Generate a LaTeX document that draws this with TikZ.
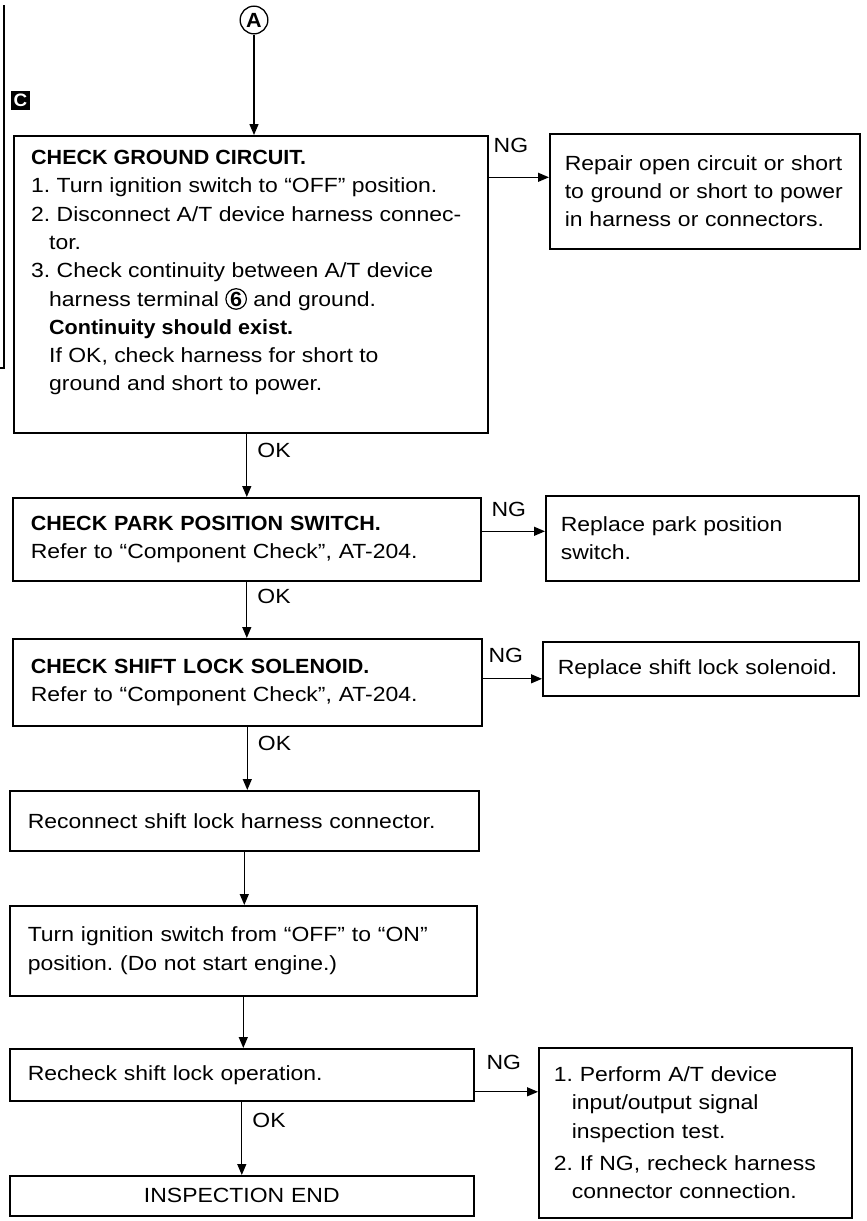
\documentclass[tikz,border=0pt]{standalone}
\usepackage{fontspec}
\setmainfont{Liberation Sans}[FakeStretch=1.12, BoldFeatures={FakeStretch=1.05}]
\usepackage{tikz}
\usetikzlibrary{arrows.meta,positioning,calc}
\newcommand\mainsz{\fontsize{20.5}{28.3}\selectfont}
\newcommand\circnum[1]{\tikz[baseline=(cn.base)]\node[circle, draw, line width=1.2pt, inner sep=0.6pt, font=\bfseries] (cn) {#1};}
\frenchspacing
\tikzset{
  stepbox/.style={draw, line width=1.6pt, align=left, anchor=north west, inner xsep=18pt, inner ysep=0pt, font=\mainsz},
  ngbox/.style={stepbox, inner xsep=15pt},
  arr/.style={-{Triangle[length=11pt, width=9pt]}, line width=1.3pt},
  lab/.style={font=\mainsz, inner sep=2pt},
  oklab/.style={lab, right=8pt, pos=0.26}
}
\begin{document}
\begin{tikzpicture}[x=1pt, y=-1pt]
\useasboundingbox (0,0) rectangle (867,1221);
% margin bracket and badge
\draw[line width=1.2pt] (4,5) -- (4,368) -- (0,368);
\node[fill=black, text=white, font=\fontsize{18}{18}\selectfont\bfseries, minimum size=19pt, inner sep=0pt] (badgeC) at (20.5,100.5) {C};
\node[circle, draw, line width=1.3pt, inner sep=2.4pt, font=\mainsz\bfseries] (circA) at (254,20) {A};
% main column
\node[stepbox, minimum width=474pt, minimum height=297pt] (ground) at (13,135) {};
\node[lab, anchor=north west, align=left, inner sep=0pt] (groundtxt) at (31,150) {\textbf{CHECK GROUND CIRCUIT.}\\
1. Turn ignition switch to “OFF” position.\\
2. Disconnect A/T device harness connec-\\
\hspace*{18pt}tor.\\
3. Check continuity between A/T device\\
\hspace*{18pt}harness terminal \circnum{6} and ground.\\
\hspace*{18pt}\textbf{Continuity should exist.}\\
\hspace*{18pt}If OK, check harness for short to\\
\hspace*{18pt}ground and short to power.};
\node[stepbox, minimum width=468pt, text width=432pt, minimum height=83pt] (park) at (12,497) {\textbf{CHECK PARK POSITION SWITCH.}\\Refer to “Component Check”, AT-204.};
\node[stepbox, minimum width=469pt, text width=433pt, minimum height=87pt] (solenoid) at (12,638) {\textbf{CHECK SHIFT LOCK SOLENOID.}\\Refer to “Component Check”, AT-204.};
\node[stepbox, minimum width=469pt, text width=433pt, minimum height=60pt] (reconnect) at (9,790) {Reconnect shift lock harness connector.};
\node[stepbox, minimum width=467pt, text width=431pt, minimum height=90pt] (ignon) at (9,905) {Turn ignition switch from “OFF” to “ON”\\position. (Do not start engine.)};
\node[stepbox, minimum width=464pt, text width=428pt, minimum height=52pt] (recheck) at (9,1048) {Recheck shift lock operation.};
\node[stepbox, minimum width=464pt, text width=428pt, minimum height=40pt, align=center] (inspend) at (9,1175) {INSPECTION END};
% NG column
\node[ngbox, minimum width=310pt, text width=280pt, minimum height=115pt] (repair) at (549,133) {Repair open circuit or short\\to ground or short to power\\in harness or connectors.};
\node[ngbox, minimum width=313pt, text width=283pt, minimum height=85pt] (replpark) at (545,495) {Replace park position\\switch.};
\node[ngbox, minimum width=316pt, text width=286pt, minimum height=54pt] (replsol) at (542,641) {Replace shift lock solenoid.};
\node[ngbox, minimum width=313pt, text width=283pt, minimum height=170pt] (perform) at (538,1047) {1. Perform A/T device\\
\hspace*{18pt}input/output signal\\
\hspace*{18pt}inspection test.\\[4pt]
2. If NG, recheck harness\\
\hspace*{18pt}connector connection.};
% OK path
\draw[arr] (circA.south) -- (circA.south |- ground.north);
\draw[arr] (park.north |- ground.south) -- node[oklab] {OK} (park.north);
\draw[arr] (park.south) -- node[oklab] {OK} (park.south |- solenoid.north);
\draw[arr] (solenoid.south) -- node[oklab] {OK} (solenoid.south |- reconnect.north);
\draw[arr] (reconnect.south) -- (reconnect.south |- ignon.north);
\draw[arr] (ignon.south) -- (ignon.south |- recheck.north);
\draw[arr] (recheck.south) -- node[oklab] {OK} (recheck.south |- inspend.north);
% NG branches
\coordinate (ng1) at ([yshift=14pt]repair.west);
\coordinate (ng2) at ([yshift=7pt]replpark.west);
\coordinate (ng3) at ([yshift=-10pt]replsol.west);
\coordinate (ng6) at ([yshift=-17pt]recheck.east -| perform.west);
\draw[arr] (ng1 -| ground.east) -- node[lab, above=22pt, pos=0.37] {NG} (ng1);
\draw[arr] (ng2 -| park.east) -- node[lab, above=12pt, pos=0.43] {NG} (ng2);
\draw[arr] (ng3 -| solenoid.east) -- node[lab, above=13pt, pos=0.39] {NG} (ng3);
\draw[arr] (ng6 -| recheck.east) -- node[lab, above=19pt, pos=0.46] {NG} (ng6);
\end{tikzpicture}
\end{document}
